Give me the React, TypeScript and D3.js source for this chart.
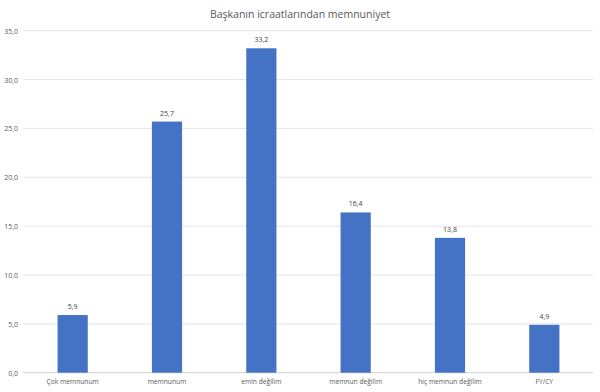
import React from "react";
import * as d3 from "d3";

const categories = ["Çok memnunum", "memnunum", "emin değilim", "memnun değilim", "hiç memnun değilim", "FY/CY"];
const values = [5.9, 25.7, 33.2, 16.4, 13.8, 4.9];
const yTicks = [0, 5, 10, 15, 20, 25, 30, 35];
const title = "Başkanın icraatlarından memnuniyet";

const W = 600, H = 392;
const m = { left: 25.5, right: 8.5, top: 30.7, bottom: 19.3 };

export default function App() {
  const x = d3.scaleBand<string>().domain(categories).range([m.left, W - m.right]).paddingInner(0.68).paddingOuter(0.34);
  const y = d3.scaleLinear().domain([0, 35]).range([H - m.bottom, m.top]);
  const fmt = (v: number) => v.toFixed(1).replace(".", ",");
  const font = "'Open Sans', 'Liberation Sans', sans-serif";
  return (
    <svg width={W} height={H} style={{ position: "absolute", left: 0, top: 0, background: "#fff" }} fontFamily={font}>
      <text x={W / 2 + 0} y={18} textAnchor="middle" fontSize={10.5} fill="#595959">{title}</text>
      {yTicks.map(t => (
        <g key={t}>
          <line x1={m.left - 2} x2={W - 7} y1={y(t)} y2={y(t)} stroke={t === 0 ? "#d0d0d0" : "#e4e4e4"} strokeWidth={1} />
          <text x={18} y={y(t) + 3} textAnchor="end" fontSize={7} fill="#595959">{fmt(t)}</text>
        </g>
      ))}
      {categories.map((c, i) => (
        <g key={c}>
          <rect x={x(c)} y={y(values[i])} width={x.bandwidth()} height={y(0) - y(values[i])} fill="#4472C4" />
          <text x={(x(c) as number) + x.bandwidth() / 2} y={y(values[i]) - 6} textAnchor="middle" fontSize={7} fill="#404040">{fmt(values[i])}</text>
          <text x={(x(c) as number) + x.bandwidth() / 2} y={H - 8} textAnchor="middle" fontSize={6.7} fill="#595959">{c}</text>
        </g>
      ))}
    </svg>
  );
}
